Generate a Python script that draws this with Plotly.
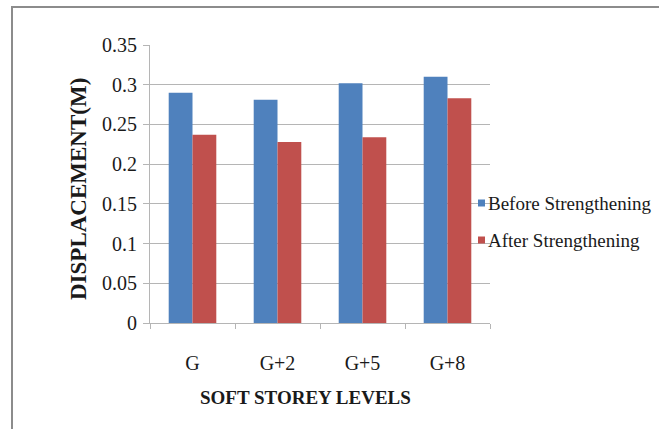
import plotly.graph_objects as go

# Soft storey displacement before and after strengthening
levels = ["G", "G+2", "G+5", "G+8"]
before = [0.290, 0.281, 0.302, 0.310]
after = [0.237, 0.228, 0.234, 0.283]
series_names = ["Before Strengthening", "After Strengthening"]
y_ticks = [0, 0.05, 0.1, 0.15, 0.2, 0.25, 0.3, 0.35]
y_tick_text = ["0", "0.05", "0.1", "0.15", "0.2", "0.25", "0.3", "0.35"]

BLUE = "#4F81BD"
RED = "#C0504D"
GRID = "#b5b5b5"
FONT = "Liberation Serif"

W, H = 659, 429
L, R, T, B = 150, 169, 45, 106
PW, PH = W - L - R, H - T - B


def px_x(x):
    return (x - L) / PW


def px_y(y):
    return (H - B - y) / PH


fig = go.Figure()
fig.add_trace(go.Bar(x=levels, y=before, name=series_names[0],
                     marker=dict(color=BLUE, line=dict(width=0))))
fig.add_trace(go.Bar(x=levels, y=after, name=series_names[1],
                     marker=dict(color=RED, line=dict(width=0))))

shapes = [
    # outer chart frame
    dict(type="rect", xref="paper", yref="paper",
         x0=px_x(12), x1=px_x(W + 5), y0=px_y(7), y1=px_y(H + 5),
         line=dict(color="#8c8c8c", width=2), fillcolor="rgba(0,0,0,0)",
         layer="below"),
]
annotations = [
    dict(text="<b>SOFT STOREY LEVELS</b>", xref="paper", yref="paper",
         x=px_x(305), y=px_y(397), showarrow=False,
         font=dict(family=FONT, size=19, color="#1a1a1a"),
         xanchor="center", yanchor="middle"),
    dict(text="<b>DISPLACEMENT(M)</b>", xref="paper", yref="paper",
         x=px_x(78), y=px_y(189), showarrow=False, textangle=-90,
         font=dict(family=FONT, size=23, color="#1a1a1a"),
         xanchor="center", yanchor="middle"),
]

# legend entries
for name, color, cy in [(series_names[0], BLUE, 203), (series_names[1], RED, 240)]:
    shapes.append(dict(type="rect", xref="paper", yref="paper",
                       x0=px_x(478), x1=px_x(485), y0=px_y(cy - 3.5), y1=px_y(cy + 3.5),
                       line=dict(width=0), fillcolor=color))
    annotations.append(dict(text=name, xref="paper", yref="paper",
                            x=px_x(486), y=px_y(cy), showarrow=False,
                            xanchor="left", yanchor="middle",
                            font=dict(family=FONT, size=19, color="#1a1a1a")))

fig.update_layout(
    width=W, height=H,
    margin=dict(l=L, r=R, t=T, b=B, pad=0),
    paper_bgcolor="white", plot_bgcolor="white",
    barmode="group", bargap=0.44, bargroupgap=0,
    showlegend=False,
    font=dict(family=FONT, size=20, color="#1a1a1a"),
    shapes=shapes, annotations=annotations,
)
fig.update_xaxes(
    type="category", showgrid=False, showline=True, linecolor=GRID, linewidth=1,
    ticks="outside", tickson="boundaries", ticklen=5, tickcolor=GRID,
    ticklabelstandoff=22, tickfont=dict(family=FONT, size=20, color="#1a1a1a"),
)
fig.update_yaxes(
    range=[0, 0.35], tickvals=y_ticks, ticktext=y_tick_text,
    showgrid=True, gridcolor=GRID, gridwidth=1, zeroline=False,
    showline=True, linecolor=GRID, linewidth=1,
    ticks="outside", ticklen=6, tickcolor=GRID,
    ticklabelstandoff=2, tickfont=dict(family=FONT, size=20, color="#1a1a1a"),
)

fig.write_html("out.html")
